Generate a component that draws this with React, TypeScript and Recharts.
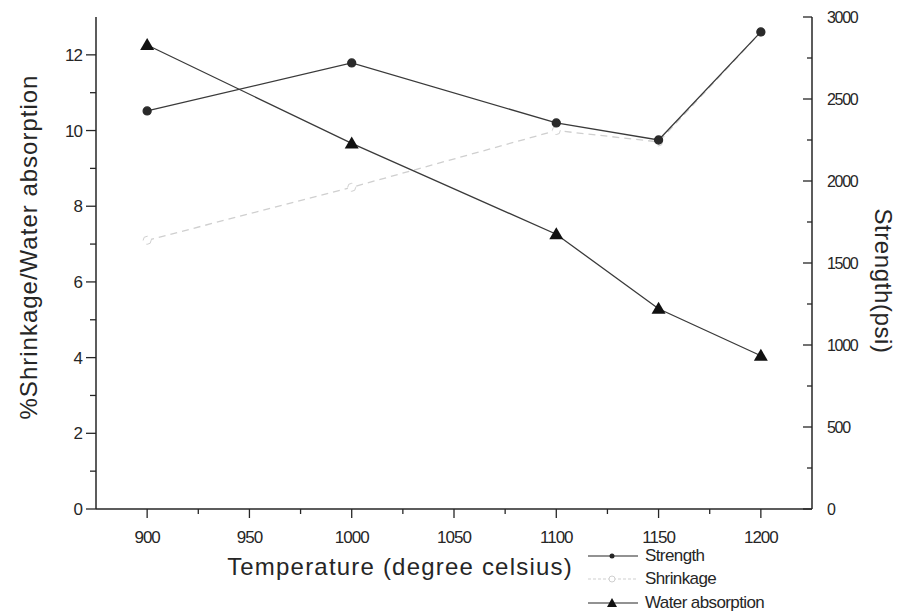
import React from 'react';
import { ComposedChart, Line, XAxis, YAxis } from 'recharts';

// ── Datos ───────────────────────────────────────────────────────────────────
const TEMPS     = [900, 1000, 1100, 1150, 1200];
const STRENGTH  = [2427, 2720, 2354, 2250, 2909]; // psi (eje derecho)
const SHRINKAGE = [7.1, 8.5, 10.0, 9.7, 12.6];    // % (eje izquierdo)
const WATER     = [12.26, 9.66, 7.26, 5.29, 4.05]; // % (eje izquierdo)

// ticks (mayores + menores)
const X_TICKS     = [900, 925, 950, 975, 1000, 1025, 1050, 1075, 1100, 1125, 1150, 1175, 1200];
const LEFT_TICKS  = [0, 1, 2, 3, 4, 5, 6, 7, 8, 9, 10, 11, 12];
const RIGHT_TICKS = [0, 250, 500, 750, 1000, 1250, 1500, 1750, 2000, 2250, 2500, 2750, 3000];

const X_TITLE     = 'Temperature (degree celsius)';
const LEFT_TITLE  = '%Shrinkage/Water absorption';
const RIGHT_TITLE = 'Strength(psi)';
const LEGEND      = ['Strength', 'Shrinkage', 'Water absorption'];

const rows = TEMPS.map((t, i) => ({
  t, strength: STRENGTH[i], shrinkage: SHRINKAGE[i], water: WATER[i],
}));

const INK   = '#262626';
const FAINT = '#cfcfcf';
const FONT  = '"Liberation Sans", Arial, sans-serif';

// ── Ticks personalizados ────────────────────────────────────────────────────
const BottomTick = (p: any) => {
  const v = p.payload.value;
  const major = v % 50 === 0;
  return (
    <g>
      <line x1={p.x} x2={p.x} y1={p.y} y2={p.y + (major ? 9 : 5)} stroke={INK} strokeWidth={1.3} />
      {major && (
        <text x={p.x} y={p.y + 34} textAnchor="middle" fontSize={17} letterSpacing={-1}
          fontFamily={FONT} fill={INK}>{v}</text>
      )}
    </g>
  );
};

const TopTick = (p: any) => {
  const major = p.payload.value % 50 === 0;
  return <line x1={p.x} x2={p.x} y1={p.y} y2={p.y + (major ? 8 : 4)} stroke={INK} strokeWidth={1.3} />;
};

const LeftTick = (p: any) => {
  const v = p.payload.value;
  const major = v % 2 === 0;
  return (
    <g>
      <line x1={p.x - (major ? 10 : 6)} x2={p.x} y1={p.y} y2={p.y} stroke={INK} strokeWidth={1.3} />
      {major && (
        <text x={p.x - 14} y={p.y + 6} textAnchor="end" fontSize={17} letterSpacing={-1}
          fontFamily={FONT} fill={INK}>{v}</text>
      )}
    </g>
  );
};

const RightTick = (p: any) => {
  const v = p.payload.value;
  const major = v % 500 === 0;
  return (
    <g>
      <line x1={p.x - (major ? 9 : 5)} x2={p.x} y1={p.y} y2={p.y} stroke={INK} strokeWidth={1.3} />
      {major && (
        <text x={p.x + 15} y={p.y + 6} textAnchor="start" fontSize={16} letterSpacing={-1.3}
          fontFamily={FONT} fill={INK}>{v}</text>
      )}
    </g>
  );
};

// ── Títulos de ejes ─────────────────────────────────────────────────────────
const xTitle = (p: any) => (
  <text x={p.viewBox.x + 304} y={p.viewBox.y + 66} textAnchor="middle" fontSize={24} letterSpacing={1.2}
    fontFamily={FONT} fill={INK}>{X_TITLE}</text>
);
const leftTitle = (p: any) => {
  const cx = p.viewBox.x - 8, cy = 247;
  return (
    <text x={cx} y={cy} transform={`rotate(-90 ${cx} ${cy})`} textAnchor="middle" dominantBaseline="central"
      fontSize={24} letterSpacing={1} fontFamily={FONT} fill={INK}>{LEFT_TITLE}</text>
  );
};
const rightTitle = (p: any) => {
  const cx = p.viewBox.x + 71, cy = 281;
  return (
    <text x={cx} y={cy} transform={`rotate(90 ${cx} ${cy})`} textAnchor="middle" dominantBaseline="central"
      fontSize={24} letterSpacing={0.6} fontFamily={FONT} fill={INK}>{RIGHT_TITLE}</text>
  );
};

// triángulo relleno para absorción de agua
const Triangle = (p: any) => {
  if (p.cx == null || p.cy == null) return <g key={p.index} />;
  const { cx, cy } = p;
  return <polygon key={p.index} points={`${cx},${cy - 7} ${cx - 7},${cy + 5} ${cx + 7},${cy + 5}`} fill="#111" />;
};

// ── Leyenda (HTML) ──────────────────────────────────────────────────────────
const LegendIcon = ({ kind }: { kind: number }) => (
  <svg width={54} height={12} style={{ display: 'block' }}>
    {kind === 1 ? (
      <>
        <line x1={2} x2={52} y1={6} y2={6} stroke={FAINT} strokeDasharray="3 2" strokeWidth={1.2} />
        <circle cx={26} cy={6} r={3} fill="#fff" stroke={FAINT} />
      </>
    ) : (
      <>
        <line x1={2} x2={52} y1={6} y2={6} stroke={INK} strokeWidth={1.2} />
        {kind === 0
          ? <circle cx={26} cy={6} r={2.5} fill={INK} />
          : <polygon points="26,1 21,10 31,10" fill="#111" />}
      </>
    )}
  </svg>
);

export default function App() {
  return (
    <div style={{ position: 'absolute', left: 0, top: 0, width: 900, height: 614, background: '#fff' }}>
      <ComposedChart width={900} height={614} data={rows} margin={{ top: 17, right: 8, bottom: 75, left: 36 }}>
        <XAxis xAxisId="b" dataKey="t" type="number" domain={[875, 1225]} ticks={X_TICKS} interval={0}
          tick={BottomTick} tickLine={false} tickSize={0} tickMargin={0} height={30}
          axisLine={{ stroke: INK, strokeWidth: 1.5 }} label={xTitle} allowDataOverflow />
        <XAxis xAxisId="t" orientation="top" dataKey="t" type="number" domain={[875, 1225]} ticks={X_TICKS}
          interval={0} tick={TopTick} tickLine={false} tickSize={0} tickMargin={0} height={0}
          axisLine={{ stroke: INK, strokeWidth: 1.5 }} allowDataOverflow />
        <YAxis yAxisId="l" type="number" domain={[0, 13]} ticks={LEFT_TICKS} interval={0}
          tick={LeftTick} tickLine={false} tickSize={0} tickMargin={0} width={60}
          axisLine={{ stroke: INK, strokeWidth: 1.5 }} label={leftTitle} allowDataOverflow />
        <YAxis yAxisId="r" orientation="right" type="number" domain={[0, 3000]} ticks={RIGHT_TICKS} interval={0}
          tick={RightTick} tickLine={false} tickSize={0} tickMargin={0} width={80}
          axisLine={{ stroke: INK, strokeWidth: 1.5 }} label={rightTitle} allowDataOverflow />

        <Line xAxisId="b" yAxisId="l" dataKey="shrinkage" type="linear" stroke={FAINT} strokeWidth={1.3}
          strokeDasharray="7 5" dot={{ r: 4, fill: '#fff', stroke: FAINT, strokeWidth: 1 }}
          isAnimationActive={false} />
        <Line xAxisId="b" yAxisId="r" dataKey="strength" type="linear" stroke="#3a3a3a" strokeWidth={1.3}
          dot={{ r: 4, fill: '#2a2a2a', stroke: '#2a2a2a' }} isAnimationActive={false} />
        <Line xAxisId="b" yAxisId="l" dataKey="water" type="linear" stroke="#3a3a3a" strokeWidth={1.3}
          dot={Triangle} isAnimationActive={false} />
      </ComposedChart>

      {/* Leyenda */}
      <div style={{ position: 'absolute', left: 586, top: 544, fontFamily: FONT, fontSize: 17, color: INK, letterSpacing: -0.6 }}>
        {LEGEND.map((name, i) => (
          <div key={name} style={{ display: 'flex', alignItems: 'center', height: 23.5 }}>
            <LegendIcon kind={i} />
            <span style={{ marginLeft: 5 }}>{name}</span>
          </div>
        ))}
      </div>
    </div>
  );
}
